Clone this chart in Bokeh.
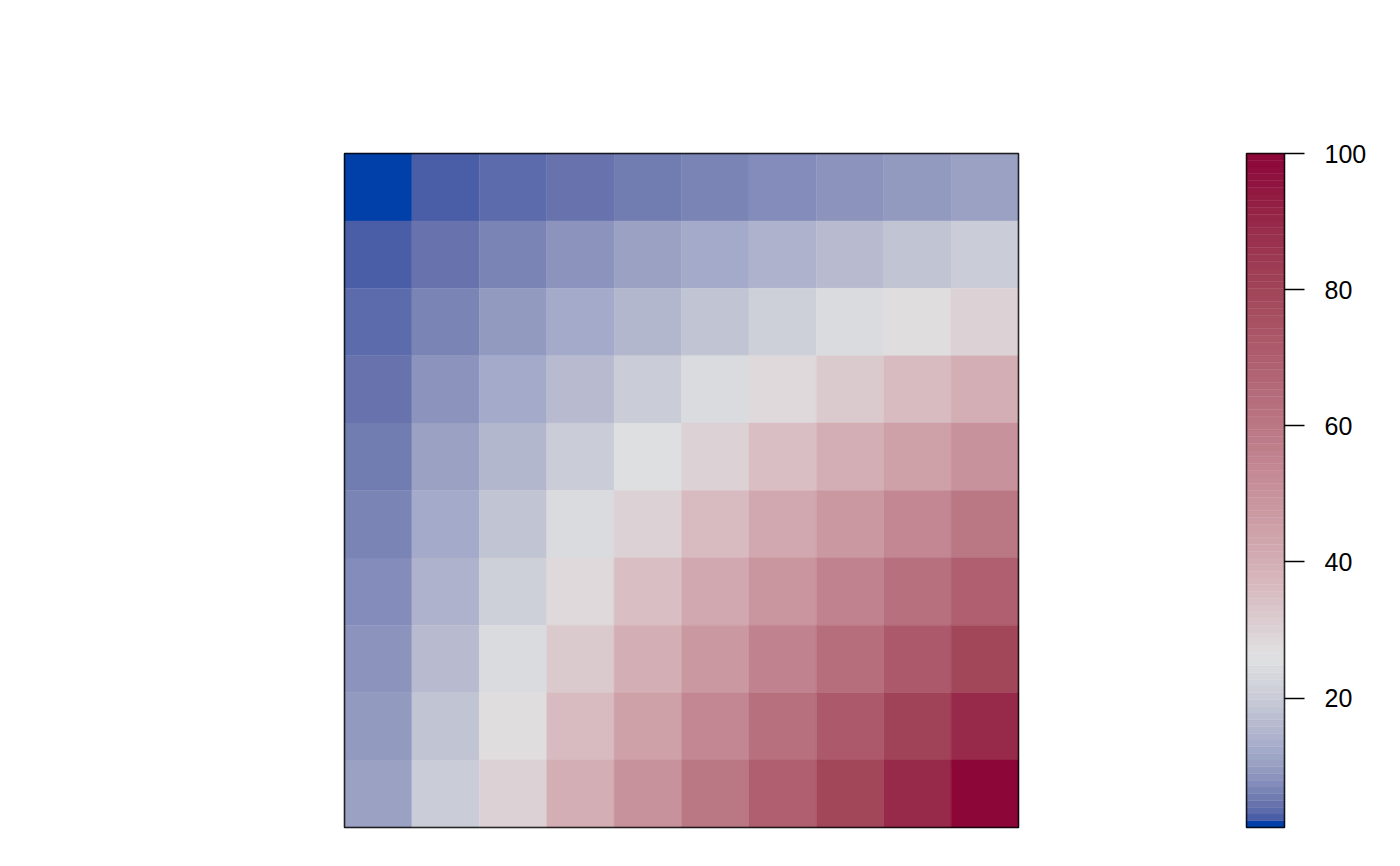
import numpy as np
from bokeh.plotting import figure
from bokeh.models import Range1d, LinearColorMapper, ColumnDataSource, FixedTicker, BoxAnnotation
from bokeh.transform import transform
from bokeh.layouts import row
from bokeh.embed import file_html
from bokeh.resources import INLINE

# ---- data ----
row_ids = [1, 2, 3, 4, 5, 6, 7, 8, 9, 10]
col_ids = [1, 2, 3, 4, 5, 6, 7, 8, 9, 10]
matrix = [
    [1, 2, 3, 4, 5, 6, 7, 8, 9, 10],
    [2, 4, 6, 8, 10, 12, 14, 16, 18, 20],
    [3, 6, 9, 12, 15, 18, 21, 24, 27, 30],
    [4, 8, 12, 16, 20, 24, 28, 32, 36, 40],
    [5, 10, 15, 20, 25, 30, 35, 40, 45, 50],
    [6, 12, 18, 24, 30, 36, 42, 48, 54, 60],
    [7, 14, 21, 28, 35, 42, 49, 56, 63, 70],
    [8, 16, 24, 32, 40, 48, 56, 64, 72, 80],
    [9, 18, 27, 36, 45, 54, 63, 72, 81, 90],
    [10, 20, 30, 40, 50, 60, 70, 80, 90, 100],
]
colorbar_ticks = [20, 40, 60, 80, 100]
value_low = 1
value_high = 100

# ---- palette (style): anchor colours along the value scale ----
anchor_values = [1, 2, 3, 4, 6, 8, 10, 12, 16, 20, 25, 27, 30, 36, 40, 50, 60, 70, 80, 90, 100]
anchor_colors = ["#0040A8", "#4A5EA8", "#5C6BAC", "#6873AD", "#7A84B5", "#8C94BE", "#9AA1C3",
                 "#A3AACA", "#B8BBCF", "#CACCD7", "#DEDFE1", "#E0DDDF", "#DCD1D4", "#D8BBC0",
                 "#D3AEB4", "#C8929C", "#BA7784", "#AF5F6F", "#A2465A", "#972A4A", "#8C0638"]


def hex2rgb(h):
    h = h.lstrip("#")
    return [int(h[i:i + 2], 16) for i in (0, 2, 4)]


n_levels = 100
levels = np.linspace(value_low, value_high, n_levels)
rgb = np.array([hex2rgb(c) for c in anchor_colors], dtype=float)
palette = []
for v in levels:
    r, g, b = (int(round(np.interp(v, anchor_values, rgb[:, k]))) for k in range(3))
    palette.append("#%02x%02x%02x" % (r, g, b))

mapper = LinearColorMapper(palette=palette, low=value_low, high=value_high)

xs, ys, vals = [], [], []
for i, r_id in enumerate(row_ids):
    for j, c_id in enumerate(col_ids):
        xs.append(c_id)
        ys.append(r_id)
        vals.append(matrix[i][j])
src = ColumnDataSource(dict(x=xs, y=ys, v=vals))

FONT = "Liberation Sans"

p = figure(width=1118, height=857,
           x_range=Range1d(0.5, 10.5), y_range=Range1d(10.5, 0.5),
           output_backend="svg", toolbar_location=None,
           x_axis_location=None, y_axis_location=None,
           min_border_left=344, min_border_right=100,
           min_border_top=153, min_border_bottom=30)
p.grid.visible = False
p.rect(x="x", y="y", width=1, height=1, source=src,
       fill_color=transform("v", mapper), line_color=transform("v", mapper), line_width=0.4)
p.outline_line_color = "black"
p.outline_line_width = 1.5
p.add_layout(BoxAnnotation(fill_alpha=0, line_color="black", line_width=1.5, line_alpha=1.0))
p.background_fill_color = "white"
p.border_fill_color = "white"

# ---- colour bar ----
step = (value_high - value_low) / n_levels
cb_src = ColumnDataSource(dict(
    bottom=[value_low + k * step for k in range(n_levels)],
    top=[value_low + (k + 1) * step for k in range(n_levels)],
    mid=[value_low + (k + 0.5) * step for k in range(n_levels)],
))
cb = figure(width=254, height=857,
            x_range=Range1d(0, 1), y_range=Range1d(value_low, value_high),
            output_backend="svg", toolbar_location=None,
            x_axis_location=None, y_axis_location="right",
            min_border_left=128, min_border_right=88,
            min_border_top=153, min_border_bottom=30)
cb.grid.visible = False
cb.quad(left=0, right=1, bottom="bottom", top="top", source=cb_src,
        fill_color=transform("mid", mapper), line_color=transform("mid", mapper), line_width=0.4)
cb.outline_line_color = "black"
cb.outline_line_width = 1.5
cb.add_layout(BoxAnnotation(fill_alpha=0, line_color="black", line_width=1.5, line_alpha=1.0))
ax = cb.yaxis[0]
ax.ticker = FixedTicker(ticks=colorbar_ticks)
ax.major_tick_out = 20
ax.major_tick_in = 0
ax.major_tick_line_color = "black"
ax.major_tick_line_width = 1.5
ax.minor_tick_line_color = None
ax.axis_line_color = None
ax.major_label_standoff = 20
ax.major_label_text_font = FONT
ax.major_label_text_font_size = "25px"
ax.major_label_text_color = "black"
cb.background_fill_color = "white"
cb.border_fill_color = "white"

layout = row(p, cb)
open("out.html", "w").write(file_html(layout, INLINE))
